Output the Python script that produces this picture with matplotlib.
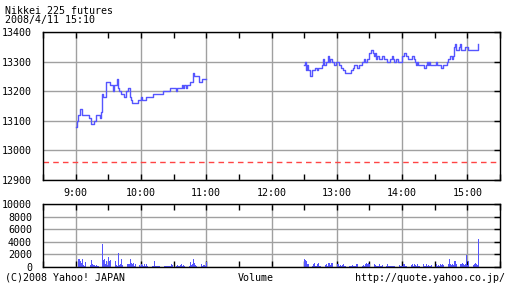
import matplotlib
matplotlib.use("Agg")
import matplotlib.pyplot as plt
import numpy as np

# ---- data ----
title_lines = ["Nikkei 225 futures", "2008/4/11 15:10"]
price_yticks = [12900, 13000, 13100, 13200, 13300, 13400]
vol_yticks = [0, 2000, 4000, 6000, 8000, 10000]
hour_ticks = [9, 10, 11, 12, 13, 14, 15]
hour_labels = ["9:00", "10:00", "11:00", "12:00", "13:00", "14:00", "15:00"]
prev_close = 12960

# morning session: minutes after 9:00 where price changes, and price
am_min = [0, 1, 2, 4, 6, 12, 14, 17, 19, 22, 23, 24, 25, 28, 32, 34, 35, 38, 39, 40,
          42, 44, 46, 48, 50, 51, 52, 57, 60, 61, 65, 71, 80, 87, 92, 93, 98, 99, 100,
          101, 102, 105, 108, 109, 113, 116, 120]
am_val = [13080, 13100, 13120, 13140, 13120, 13110, 13090, 13100, 13120, 13110, 13130,
          13190, 13180, 13230, 13220, 13200, 13220, 13240, 13210, 13200, 13190, 13180,
          13200, 13210, 13180, 13170, 13160, 13170, 13180, 13170, 13180, 13190, 13200,
          13210, 13200, 13210, 13220, 13210, 13220, 13210, 13220, 13230, 13260, 13250,
          13230, 13240, 13240]

# afternoon session: minutes after 12:30
pm_min = [0, 1, 2, 3, 4, 5, 7, 10, 12, 13, 15, 16, 17, 18, 20, 22, 23, 24, 26, 27, 29,
          32, 34, 36, 38, 43, 45, 46, 49, 50, 53, 55, 56, 58, 60, 61, 63, 64, 65, 66, 67,
          69, 72, 73, 76, 79, 81, 82, 83, 84, 86, 88, 90, 92, 94, 95, 99, 101, 102, 103,
          104, 105, 110, 112, 113, 114, 115, 116, 121, 122, 126, 128, 131, 132, 134, 136,
          137, 138, 139, 140, 142, 143, 144, 148, 151, 159, 160]
pm_val = [13290, 13300, 13270, 13290, 13270, 13250, 13270, 13280, 13270, 13280, 13280,
          13290, 13310, 13290, 13300, 13320, 13300, 13310, 13300, 13290, 13300, 13290,
          13280, 13270, 13260, 13270, 13280, 13290, 13280, 13290, 13300, 13310, 13300,
          13310, 13330, 13340, 13330, 13320, 13330, 13310, 13320, 13310, 13320, 13310,
          13300, 13310, 13320, 13310, 13300, 13310, 13300, 13300, 13320, 13330, 13320,
          13310, 13320, 13310, 13300, 13290, 13300, 13290, 13280, 13290, 13300, 13290,
          13300, 13290, 13300, 13290, 13280, 13290, 13300, 13310, 13320, 13310, 13320,
          13350, 13360, 13340, 13350, 13360, 13340, 13350, 13340, 13340, 13360]

am_vol = [9800, 700, 1200, 1200, 900, 600, 1200, 300, 200, 800, 500, 600, 400, 300, 1050,
          400, 300, 300, 200, 300, 100, 200, 900, 200, 3600, 1100, 1200, 400, 900, 300,
          1600, 900, 1100, 900, 1000, 600, 900, 300, 200, 2300, 300, 400, 1200, 300, 600,
          600, 600, 500, 400, 500, 1300, 700, 400, 600, 200, 400, 500, 1400, 300, 200,
          500, 300, 200, 400, 200, 400, 200, 300, 200, 200, 100, 100, 900, 100, 200, 200,
          100, 200, 100, 200, 100, 200, 100, 200, 100, 200, 100, 200, 400, 300, 100, 200,
          100, 300, 200, 100, 300, 400, 200, 300, 200, 500, 200, 300, 200, 800, 300, 500,
          1300, 700, 300, 200, 100, 300, 600, 500, 200, 300, 300, 200, 800]
pm_vol = [1200, 1100, 900, 500, 400, 300, 300, 200, 500, 600, 200, 150, 400, 700, 200,
          200, 400, 300, 1150, 300, 500, 200, 600, 700, 300, 700, 600, 600, 500, 300, 400,
          400, 200, 300, 200, 300, 400, 200, 100, 200, 400, 200, 100, 200, 300, 200, 100,
          200, 400, 500, 200, 200, 300, 200, 300, 200, 500, 600, 500, 600, 500, 200, 300,
          200, 400, 300, 200, 200, 100, 400, 200, 100, 300, 200, 100, 200, 400, 200, 200,
          100, 200, 200, 100, 150, 100, 100, 200, 300, 200, 100, 200, 500, 400, 200, 100,
          200, 100, 100, 300, 400, 200, 400, 300, 200, 500, 200, 100, 300, 200, 400, 100,
          200, 500, 200, 300, 200, 100, 300, 400, 200, 300, 400, 200, 300, 200, 400, 300,
          500, 300, 200, 300, 200, 500, 1300, 500, 300, 400, 300, 1000, 1000, 500, 300,
          600, 500, 500, 600, 500, 300, 400, 1900, 300, 900, 200, 300, 500, 300, 400, 600,
          400, 300, 4400]

# ---- styling ----
FONT = "DejaVu Sans Mono"
FS = 7.2
BLUE = "#5555FF"
GRID = "#A0A0A0"

fig = plt.figure(figsize=(5.12, 2.88), dpi=100)
W, H = 512, 288

def frac(x0, y0, x1, y1):
    return [x0 / W, 1 - y1 / H, (x1 - x0) / W, (y1 - y0) / H]

ax = fig.add_axes(frac(43, 32, 500, 180))
axv = fig.add_axes(frac(43, 204, 500, 267))

am_t = 9 + np.array(am_min) / 60.0
pm_t = 12.5 + np.array(pm_min) / 60.0
ax.step(am_t, am_val, where="post", color=BLUE, lw=1.0)
ax.step(pm_t, pm_val, where="post", color=BLUE, lw=1.0)
ax.axhline(prev_close, color="#FF4444", lw=1.0, dashes=(4, 3))

am_vt = 9 + np.arange(len(am_vol)) / 60.0
pm_vt = 12.5 + np.arange(len(pm_vol)) / 60.0
axv.bar(am_vt, am_vol, width=0.7 / 60, align="edge", color=BLUE, lw=0)
axv.bar(pm_vt, pm_vol, width=0.7 / 60, align="edge", color=BLUE, lw=0)

for a, yt, ylim in [(ax, price_yticks, (12900, 13400)), (axv, vol_yticks, (0, 10000))]:
    a.set_xlim(8.5, 15.5)
    a.set_ylim(*ylim)
    a.set_yticks(yt)
    a.set_yticklabels([str(v) for v in yt], fontfamily=FONT, fontsize=FS)
    a.set_xticks(hour_ticks)
    a.set_xticks([h + 0.5 for h in range(8, 16)], minor=True)
    a.grid(True, which="major", color=GRID, lw=1.0)
    a.set_axisbelow(True)
    for s in a.spines.values():
        s.set_color("black")
        s.set_linewidth(1.0)
    a.tick_params(axis="x", which="both", direction="in", top=True, bottom=True,
                  length=4, width=1, color="black")
    a.tick_params(axis="y", which="both", direction="in", left=False, right=True,
                  length=4, width=1, color="black", pad=8)

ax.set_xticklabels(hour_labels, fontfamily=FONT, fontsize=FS)
ax.tick_params(axis="x", pad=6)
axv.set_xticklabels([])

fig.text(5 / W, 1 - 11.5 / H, title_lines[0], fontfamily=FONT, fontsize=FS, va="center", ha="left")
fig.text(5 / W, 1 - 20.5 / H, title_lines[1], fontfamily=FONT, fontsize=FS, va="center", ha="left")
fig.text(5 / W, 1 - 278 / H, "(C)2008 Yahoo! JAPAN", fontfamily=FONT, fontsize=FS, va="center", ha="left")
fig.text(256 / W, 1 - 278 / H, "Volume", fontfamily=FONT, fontsize=FS, va="center", ha="center")
fig.text(505 / W, 1 - 278 / H, "http://quote.yahoo.co.jp/", fontfamily=FONT, fontsize=FS, va="center", ha="right")

fig.savefig("out.png", dpi=100)
